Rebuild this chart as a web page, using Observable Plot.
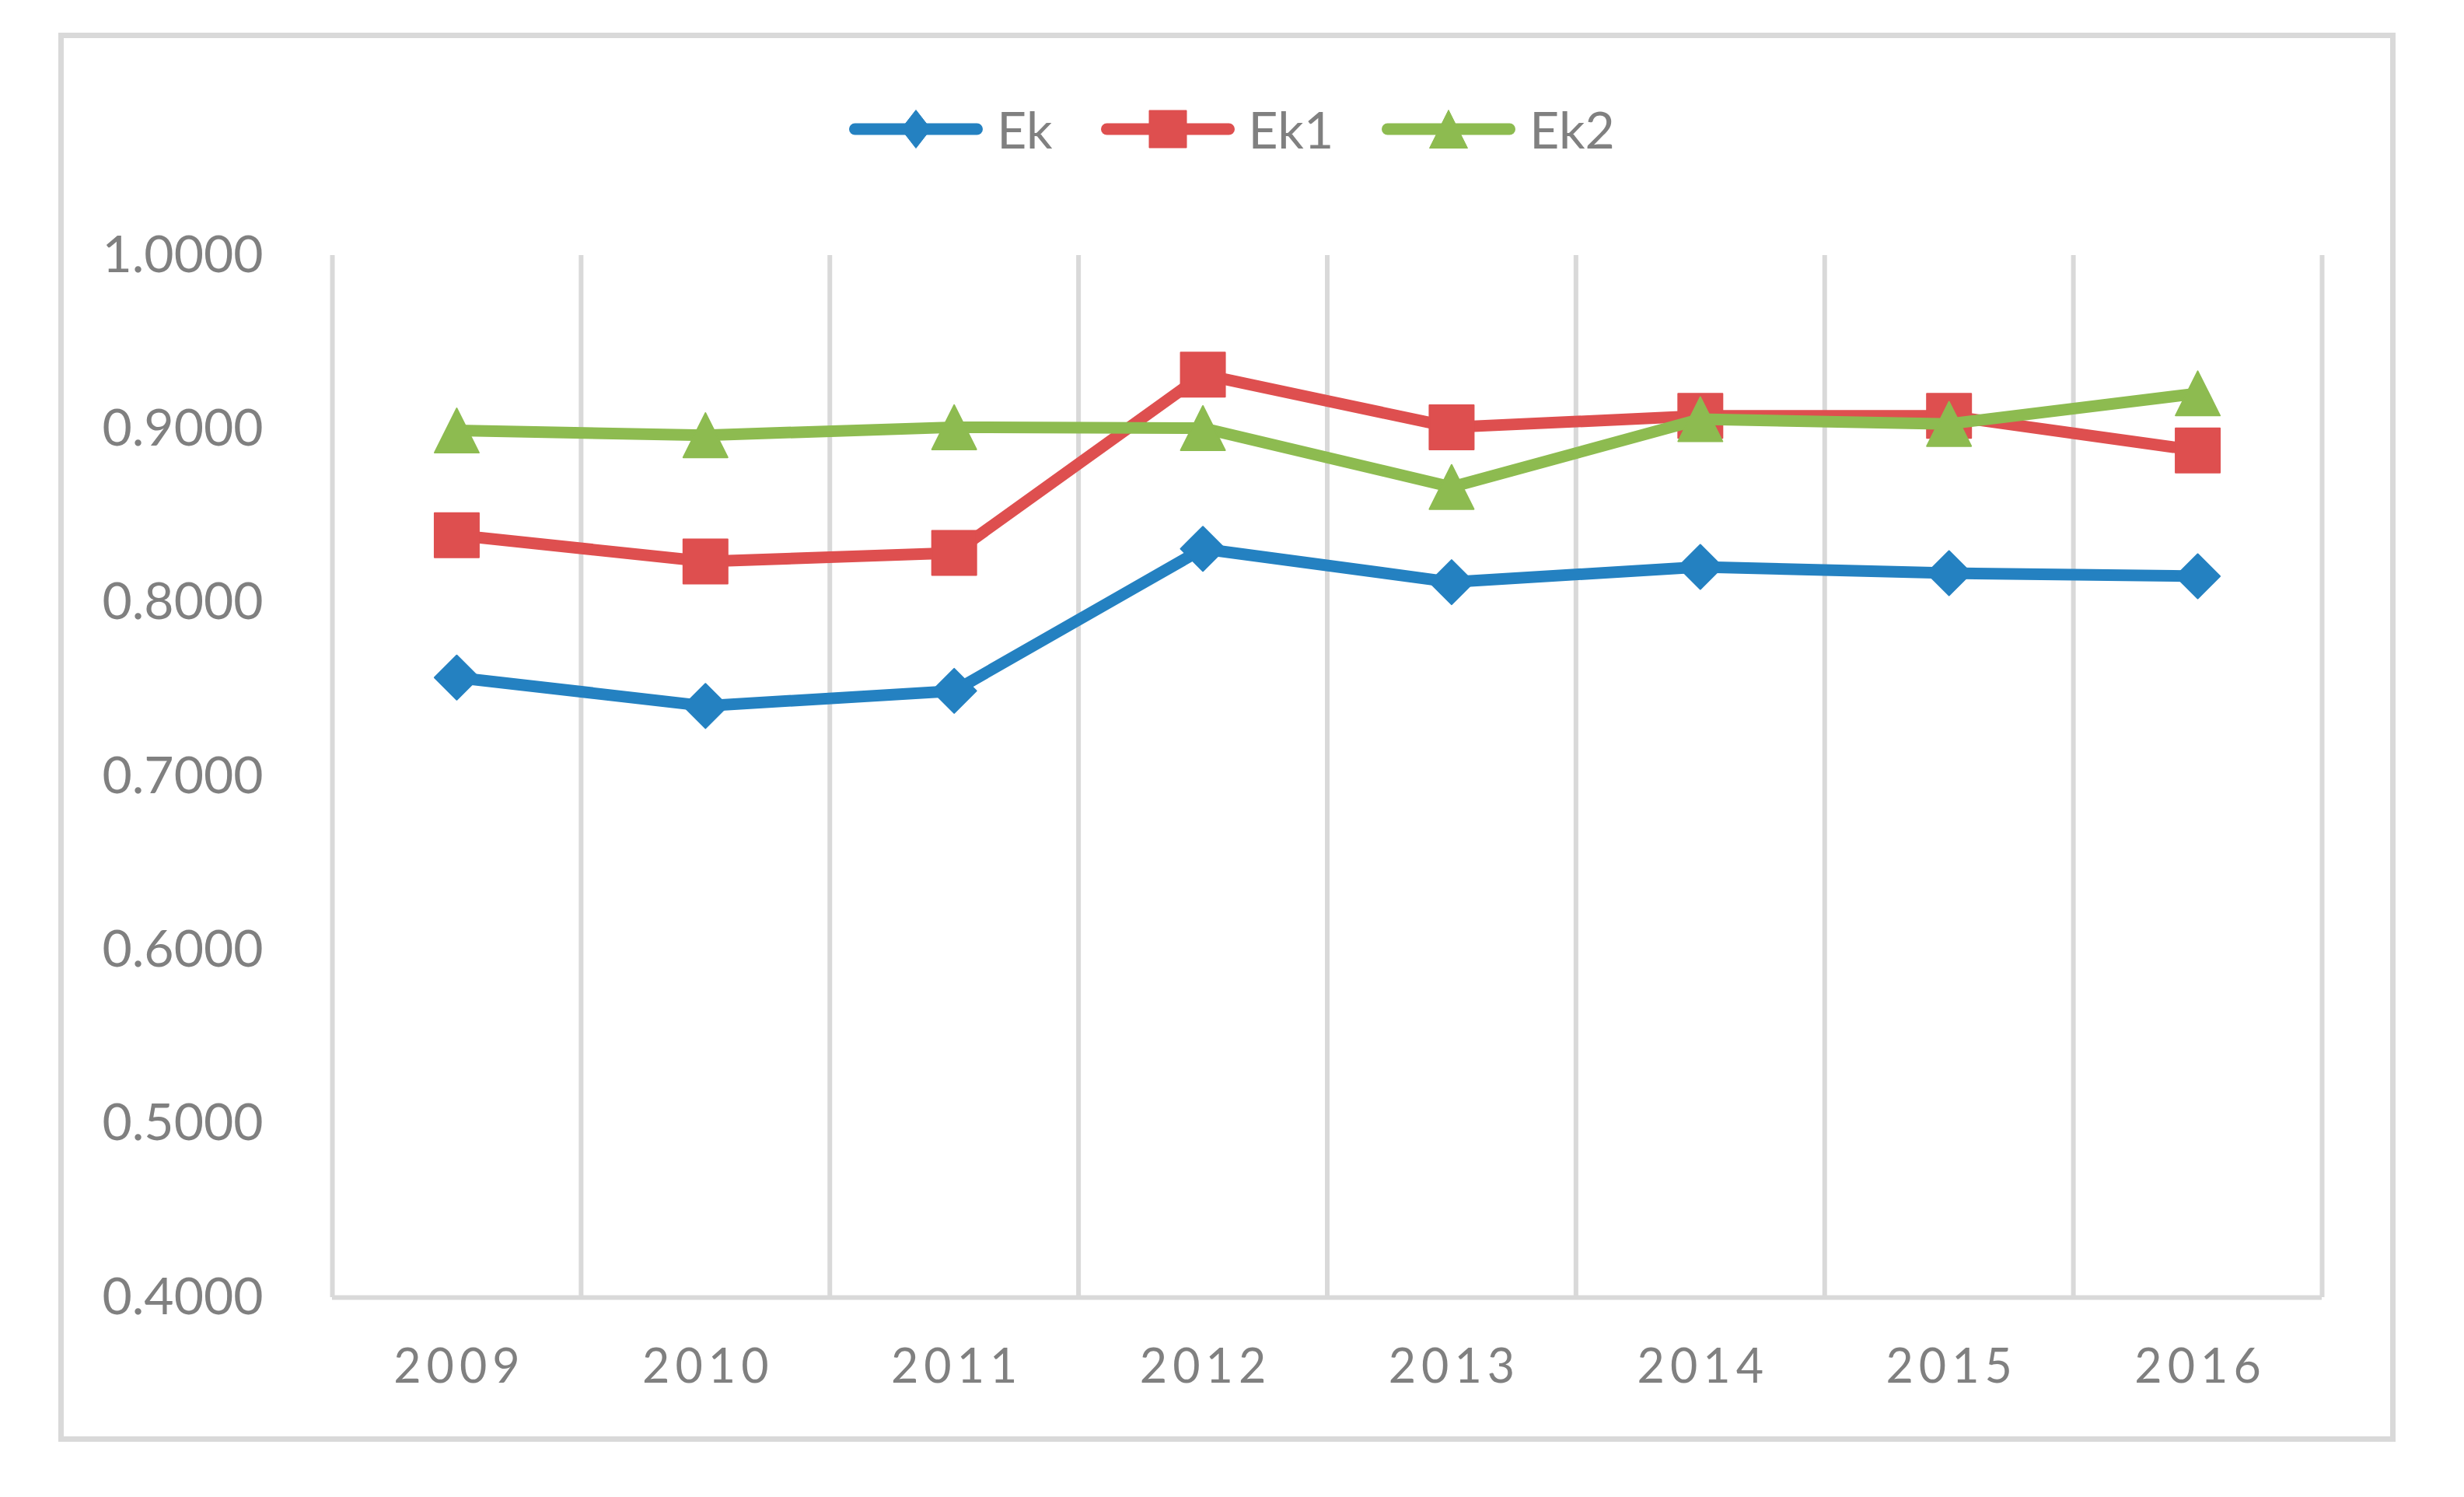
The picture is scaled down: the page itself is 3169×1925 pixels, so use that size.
<!DOCTYPE html>
<html><head><meta charset="utf-8">
<script src="https://cdn.jsdelivr.net/npm/d3@7"></script>
<script src="https://cdn.jsdelivr.net/npm/@observablehq/plot@0.6"></script>
<style>
html,body{margin:0;padding:0;background:#fff;overflow:hidden;}
body{width:3169px;height:1925px;position:relative;font-family:Lato,"Open Sans",sans-serif;}
#frame{position:absolute;left:75px;top:42px;width:3006px;height:1812px;border:7px solid #d9d9d9;box-sizing:border-box;}
#legend{position:absolute;left:0;top:120px;width:3169px;height:92px;display:flex;justify-content:center;align-items:center;}
.item{display:flex;align-items:center;margin:0 31px;}
.item span{font-size:66px;color:#808080;margin-left:18px;line-height:1;}
#chart{position:absolute;left:0;top:260px;}
</style></head><body>
<div id="frame"></div>
<div id="legend"></div>
<div id="chart"></div>
<script>
const years = [2009, 2010, 2011, 2012, 2013, 2014, 2015, 2016];
const ek  = [0.7570, 0.7406, 0.7493, 0.8311, 0.8119, 0.8207, 0.8171, 0.8153];
const ek1 = [0.8389, 0.8238, 0.8287, 0.9314, 0.9011, 0.9076, 0.9076, 0.8877];
const ek2 = [0.8992, 0.8965, 0.9011, 0.9006, 0.8667, 0.9057, 0.9030, 0.9206];
const seriesNames = ["Ek", "Ek1", "Ek2"];
const seriesColors = ["#2481c1", "#de4f4f", "#8dbb50"];
const yTicks = [0.4, 0.5, 0.6, 0.7, 0.8, 0.9, 1.0];

const symDiamond = {draw(c, size){const s=Math.sqrt(size/Math.PI); c.moveTo(0,-s); c.lineTo(s,0); c.lineTo(0,s); c.lineTo(-s,0); c.closePath();}};
const symSquare = {draw(c, size){const s=Math.sqrt(size/Math.PI); c.moveTo(-s,-s); c.lineTo(s,-s); c.lineTo(s,s); c.lineTo(-s,s); c.closePath();}};
const symTriangle = {draw(c, size){const s=Math.sqrt(size/Math.PI); c.moveTo(0,-s); c.lineTo(s,s); c.lineTo(-s,s); c.closePath();}};
const symbols = [symDiamond, symSquare, symTriangle];

const seriesValues = [ek, ek1, ek2];
const rowsBySeries = seriesValues.map((vals, k) => years.map((y, i) => ({year: y, value: vals[i], series: seriesNames[k]})));

const gridX = years.map(y => y - 0.5).concat([years[years.length - 1] + 0.5]);
const yMin = yTicks[0], yMax = yTicks[yTicks.length - 1];

const marks = [
  Plot.ruleX(gridX, {y1: yMin, y2: yMax, stroke: "#d9d9d9", strokeWidth: 6}),
  Plot.ruleY([yMin], {stroke: "#d9d9d9", strokeWidth: 6}),
  Plot.axisY(yTicks, {tickSize: 0, tickPadding: 89, tickFormat: d3.format(".4f"), fontSize: 66, fill: "#808080", label: null}),
  Plot.axisX(years, {tickSize: 0, tickPadding: 66, tickFormat: d => String(d), fontSize: 61, fill: "#808080", label: null})
];
rowsBySeries.forEach((rows, k) => {
  marks.push(Plot.line(rows, {x: "year", y: "value", stroke: seriesColors[k], strokeWidth: 15, strokeLinecap: "round", strokeLinejoin: "round"}));
  marks.push(Plot.dot(rows, {x: "year", y: "value", symbol: symbols[k], r: 28.5, fill: seriesColors[k], stroke: seriesColors[k], strokeWidth: 2, strokeLinejoin: "round"}));
});

const chart = Plot.plot({
  width: 3169,
  height: 1580,
  marginTop: 68,
  marginBottom: 172,
  marginLeft: 427,
  marginRight: 183,
  x: {type: "linear", domain: [years[0] - 0.5, years[years.length - 1] + 0.5], label: null},
  y: {domain: [yMin, yMax], label: null},
  style: {background: "transparent", overflow: "visible", fontFamily: "Lato, 'Open Sans', sans-serif", maxWidth: "none"},
  marks
});
document.getElementById("chart").appendChild(chart);
d3.select(chart).selectAll('g[aria-label="x-axis tick label"] text').attr("letter-spacing", "7px").attr("dx", "3.5");

// legend
const legend = d3.select("#legend");
seriesNames.forEach((name, k) => {
  const item = legend.append("div").attr("class", "item");
  const svg = item.append("svg").attr("width", 172).attr("height", 52);
  svg.append("line").attr("x1", 7.5).attr("x2", 164.5).attr("y1", 26).attr("y2", 26)
    .attr("stroke", seriesColors[k]).attr("stroke-width", 15).attr("stroke-linecap", "round");
  let path;
  if (k === 0) path = "M86,1.5L105,26L86,50.5L67,26Z";
  else if (k === 1) path = "M62,2H110V50H62Z";
  else path = "M86,1.5L110.5,50.5H61.5Z";
  svg.append("path").attr("d", path).attr("fill", seriesColors[k]).attr("stroke", seriesColors[k]).attr("stroke-width", 1).attr("stroke-linejoin", "round");
  item.append("span").text(name);
});
</script>
</body></html>
